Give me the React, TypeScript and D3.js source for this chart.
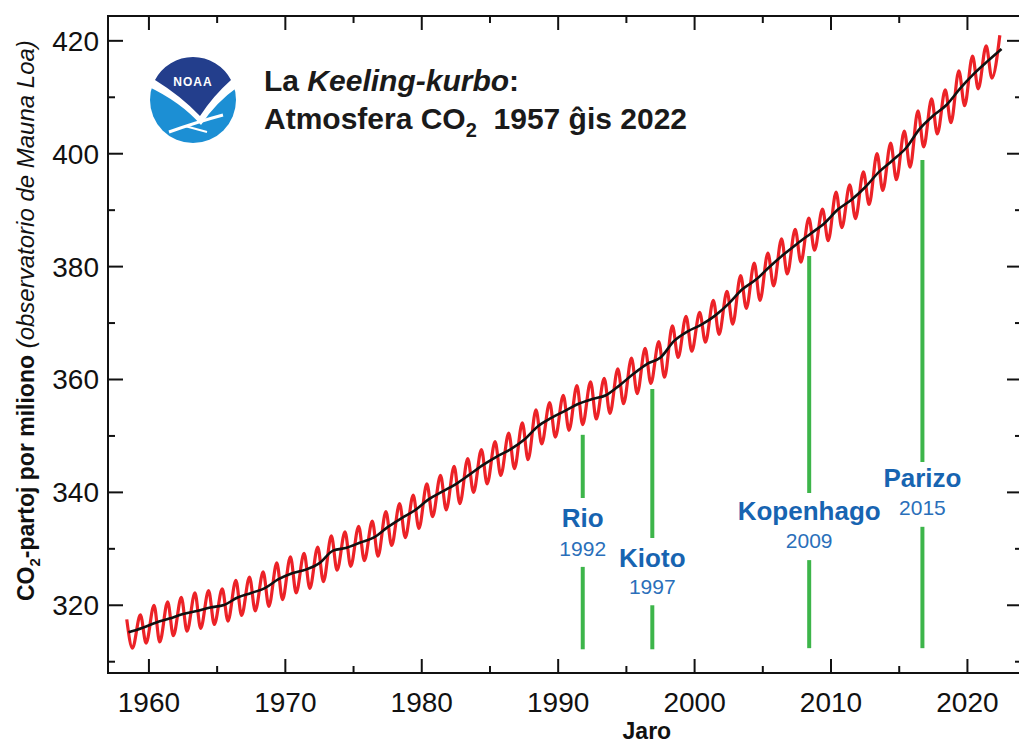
import * as d3 from "d3";

// Mauna Loa CO2 (ppm)
const years = d3.range(1958, 2023);
// annual mean (black curve)
const trend = [
  315.2, 315.98, 316.91, 317.64, 318.45, 318.99, 319.62, 320.04, 321.37, 322.18,
  323.05, 324.62, 325.68, 326.32, 327.46, 329.68, 330.19, 331.12, 332.03, 333.84,
  335.41, 336.84, 338.76, 340.12, 341.48, 343.15, 344.87, 346.35, 347.61, 349.31,
  351.69, 353.2, 354.45, 355.7, 356.54, 357.21, 358.96, 360.97, 362.74, 363.88,
  366.84, 368.54, 369.71, 371.32, 373.45, 375.98, 377.7, 379.98, 382.09, 384.02,
  385.83, 387.64, 390.1, 391.85, 394.06, 396.74, 398.81, 401.01, 404.41, 406.76,
  408.72, 411.66, 414.24, 416.45, 418.56,
];
// May maximum (red curve)
const peaks = [
  317.5, 318.3, 320.0, 320.6, 321.4, 322.2, 322.6, 322.9, 324.4, 325.0,
  325.9, 327.5, 328.6, 329.2, 330.3, 332.3, 333.0, 334.0, 334.9, 336.6,
  338.0, 339.5, 341.5, 343.0, 344.6, 346.0, 347.6, 349.0, 350.5, 352.3,
  354.6, 355.9, 357.2, 358.9, 359.6, 360.2, 361.9, 363.8, 365.5, 366.7,
  369.5, 371.2, 371.9, 374.0, 375.6, 378.4, 380.6, 382.4, 384.9, 386.6,
  388.6, 390.2, 393.2, 394.5, 396.8, 400.0, 401.9, 404.0, 407.6, 409.7,
  411.3, 414.7, 417.3, 419.1, 421.0,
];
// October minimum (red curve), 1958-2021
const troughs = [
  312.4, 313.3, 313.5, 314.6, 315.4, 315.9, 316.6, 317.2, 318.2, 319.0,
  319.8, 321.0, 322.2, 323.0, 324.2, 326.2, 326.9, 327.9, 328.7, 330.6,
  332.0, 333.6, 335.7, 336.9, 338.0, 340.0, 341.5, 343.0, 344.2, 345.8,
  348.6, 349.8, 351.0, 352.0, 353.0, 354.0, 355.7, 357.5, 359.3, 360.4,
  363.9, 365.0, 366.6, 368.0, 369.8, 372.6, 374.0, 376.6, 378.7, 380.8,
  382.9, 384.6, 386.9, 388.5, 391.0, 393.5, 395.4, 397.6, 401.2, 403.5,
  405.5, 408.5, 411.5, 413.4,
];
const peakMonth = 5;
const troughMonth = 10;

// climate conferences
const events = ["Rio", "Kioto", "Kopenhago", "Parizo"];
const eventYears = ["1992", "1997", "2009", "2015"];
const eventLineX = [1991.8, 1996.9, 2008.4, 2016.7];
const eventTop = [350.2, 358.3, 381.9, 398.9];
const eventGapTop = [339.0, 331.9, 339.9, 345.4];
const eventGapBottom = [326.8, 320.0, 328.0, 333.9];
const eventBottom = [312.2, 312.2, 312.4, 312.4];
const eventNameAt = [333.9, 326.8, 335.1, 341.0];
const eventYearAt = [328.7, 322.0, 330.1, 336.0];

const xMajor = [1960, 1970, 1980, 1990, 2000, 2010, 2020];
const xMinor = [1965, 1975, 1985, 1995, 2005, 2015];
const yMajor = [320, 340, 360, 380, 400, 420];
const yMinor = [310, 330, 350, 370, 390, 410];

const width = 1019;
const height = 746;
const left = 108;
const right = 1022;
const top = 16;
const bottom = 673;
const font = "'Liberation Sans', Arial, Helvetica, sans-serif";

export default function App() {
  const x = d3.scaleLinear().domain([1957, 2024]).range([left, right]);
  const y = d3.scaleLinear().domain([308, 424.4]).range([bottom, top]);

  const red: [number, number][] = [];
  years.forEach((yr, i) => {
    red.push([yr + (peakMonth - 0.5) / 12, peaks[i]]);
    if (i < troughs.length) red.push([yr + (troughMonth - 0.5) / 12, troughs[i]]);
  });
  const black: [number, number][] = years.map((yr, i) => [yr + 0.5, trend[i]]);

  const line = d3
    .line<[number, number]>()
    .x((d) => x(d[0]))
    .y((d) => y(d[1]))
    .curve(d3.curveMonotoneX);

  const green = "#3db54a";
  const blue = "#1764b1";

  return (
    <svg
      width={width}
      height={height}
      style={{ position: "absolute", left: 0, top: 0, background: "#fff" }}
      fontFamily={font}
    >
      {/* data */}
      <path d={line(red) ?? ""} fill="none" stroke="#ec2227" strokeWidth={3.2} strokeLinejoin="round" />
      <path d={line(black) ?? ""} fill="none" stroke="#111" strokeWidth={2.6} strokeLinejoin="round" />

      {/* conference markers */}
      {events.map((name, i) => (
        <g key={name}>
          <line x1={x(eventLineX[i])} x2={x(eventLineX[i])} y1={y(eventTop[i])} y2={y(eventGapTop[i])} stroke={green} strokeWidth={4} />
          <line x1={x(eventLineX[i])} x2={x(eventLineX[i])} y1={y(eventGapBottom[i])} y2={y(eventBottom[i])} stroke={green} strokeWidth={4} />
          <text x={x(eventLineX[i])} y={y(eventNameAt[i])} textAnchor="middle" fontWeight="bold" fontSize={26} fill={blue}>
            {name}
          </text>
          <text x={x(eventLineX[i])} y={y(eventYearAt[i])} textAnchor="middle" fontSize={21} fill="#2a6fba">
            {eventYears[i]}
          </text>
        </g>
      ))}

      {/* frame */}
      <rect x={left} y={top} width={right - left} height={bottom - top} fill="none" stroke="#111" strokeWidth={2} />
      {xMajor.map((v) => (
        <g key={"xm" + v} stroke="#111" strokeWidth={2}>
          <line x1={x(v)} x2={x(v)} y1={bottom} y2={bottom - 14} />
          <line x1={x(v)} x2={x(v)} y1={top} y2={top + 14} />
        </g>
      ))}
      {xMinor.map((v) => (
        <g key={"xn" + v} stroke="#111" strokeWidth={2}>
          <line x1={x(v)} x2={x(v)} y1={bottom} y2={bottom - 7} />
          <line x1={x(v)} x2={x(v)} y1={top} y2={top + 7} />
        </g>
      ))}
      {yMajor.map((v) => (
        <g key={"ym" + v} stroke="#111" strokeWidth={2}>
          <line x1={left} x2={left + 15} y1={y(v)} y2={y(v)} />
          <line x1={right} x2={right - 15} y1={y(v)} y2={y(v)} />
        </g>
      ))}
      {yMinor.map((v) => (
        <g key={"yn" + v} stroke="#111" strokeWidth={2}>
          <line x1={left} x2={left + 7} y1={y(v)} y2={y(v)} />
          <line x1={right} x2={right - 7} y1={y(v)} y2={y(v)} />
        </g>
      ))}
      {xMajor.map((v) => (
        <text key={"xl" + v} x={x(v)} y={bottom + 39} textAnchor="middle" fontSize={28} fill="#111">
          {v}
        </text>
      ))}
      {yMajor.map((v) => (
        <text key={"yl" + v} x={left - 9} y={y(v) + 10} textAnchor="end" fontSize={28} fill="#111">
          {v}
        </text>
      ))}

      {/* axis titles */}
      <text x={x(1996.5)} y={739} textAnchor="middle" fontWeight="bold" fontSize={23} fill="#111">
        Jaro
      </text>
      <text transform={`translate(34,601) rotate(-90)`} fontSize={23} fill="#111">
        <tspan fontWeight="bold">CO</tspan>
        <tspan fontWeight="bold" fontSize={15} dy={6}>2</tspan>
        <tspan fontWeight="bold" dy={-6}>-partoj por miliono</tspan>
        <tspan fontStyle="italic" fontSize={24}> (observatorio de Mauna Loa)</tspan>
      </text>

      {/* title */}
      <text x={264} y={91} fontWeight="bold" fontSize={30} fill="#1a1a1a">
        La <tspan fontStyle="italic">Keeling-kurbo</tspan>:
      </text>
      <text x={264} y={129} fontWeight="bold" fontSize={30} fill="#1a1a1a">
        Atmosfera CO
        <tspan fontSize={20} dy={8}>2</tspan>
        <tspan dy={-8}>{"\u00a0 1957 ĝis 2022"}</tspan>
      </text>

      {/* NOAA logo */}
      <g transform="translate(193,100)">
        <circle r={43} fill="#1c8fd4" />
        <path d="M -46,-14 Q -12,2 8,25 Q 22,3 46,-14 L 46,-46 L -46,-46 Z" fill="#fff" />
        <path d="M -38,-20 A 43 43 0 0 1 38,-20 Q 20,-4 7,16 Q -12,-4 -38,-20 Z" fill="#233e8c" />
        <path d="M -24,32 Q 4,22 30,15" fill="none" stroke="#fff" strokeWidth={3} />
        <path d="M -8,26 L 14,32" fill="none" stroke="#fff" strokeWidth={2} />
        <text y={-14} textAnchor="middle" fontWeight="bold" fontSize={12} fill="#fff" letterSpacing={1}>
          NOAA
        </text>
      </g>
    </svg>
  );
}
